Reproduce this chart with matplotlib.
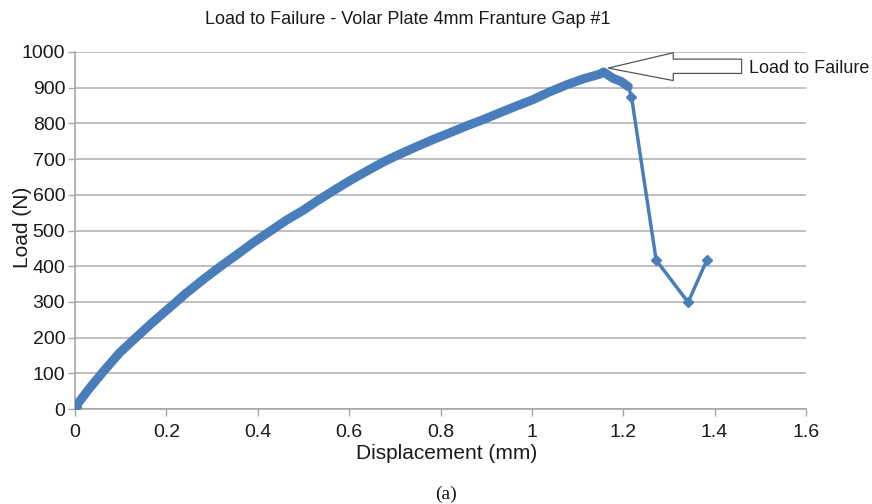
import matplotlib
matplotlib.use("Agg")
import matplotlib.pyplot as plt
from matplotlib.patches import Polygon

# Data
# dense loading part of the curve (up to failure)
disp_dense = [0.0, 0.033, 0.062, 0.098, 0.135, 0.171, 0.208, 0.244, 0.281, 0.317,
              0.354, 0.39, 0.427, 0.463, 0.5, 0.529, 0.565, 0.602, 0.638, 0.675,
              0.711, 0.748, 0.784, 0.821, 0.857, 0.894, 0.93, 0.967, 1.003, 1.04,
              1.076, 1.113, 1.149, 1.157, 1.178, 1.196, 1.211]
load_dense = [5, 60, 105, 158, 202, 244, 285, 325, 363, 398,
              432, 466, 498, 529, 557, 582, 611, 640, 666, 692,
              714, 735, 755, 774, 793, 811, 830, 849, 867, 889,
              908, 925, 938, 944, 926, 917, 903]

# sparse points after failure
disp_tail = [1.218, 1.272, 1.342, 1.383]
load_tail = [875, 417, 299, 417]

x_ticks = [0, 0.2, 0.4, 0.6, 0.8, 1.0, 1.2, 1.4, 1.6]
x_tick_labels = ["0", "0.2", "0.4", "0.6", "0.8", "1", "1.2", "1.4", "1.6"]
y_ticks = list(range(0, 1001, 100))

# Style
blue = "#4a7ebb"
grid_gray = "#b3b3b3"
text_col = "#1a1a1a"
plt.rcParams["font.family"] = ["Liberation Sans", "DejaVu Sans"]

fig = plt.figure(figsize=(8.72, 5.04), dpi=100)
ax = fig.add_axes([75 / 872, 95 / 504, 731 / 872, 357 / 504])

# Curve: thick band for the dense part, thin line with diamond markers afterwards
ax.plot(disp_dense + disp_tail, load_dense + load_tail, color=blue, lw=2.5, zorder=3)
ax.plot(disp_dense, load_dense, color=blue, lw=6.5, solid_capstyle="round",
        solid_joinstyle="round", zorder=3)
ax.plot(disp_tail, load_tail, "D", color=blue, ms=5.5, zorder=4)
ax.plot(disp_dense[0], load_dense[0], "D", color=blue, ms=6, zorder=4)

# Axes
ax.set_xlim(0, 1.6)
ax.set_ylim(0, 1000)
ax.set_xticks(x_ticks)
ax.set_xticklabels(x_tick_labels)
ax.set_yticks(y_ticks)
ax.yaxis.grid(True, color=grid_gray, lw=1.2)
ax.set_axisbelow(True)
for side in ["top", "right"]:
    ax.spines[side].set_visible(False)
for side in ["left", "bottom"]:
    ax.spines[side].set_color("#a6a6a6")
    ax.spines[side].set_linewidth(1.2)
ax.tick_params(axis="both", direction="out", length=5, width=1, color="#a6a6a6",
               labelsize=14, labelcolor=text_col)
ax.tick_params(axis="x", pad=6)
ax.tick_params(axis="y", pad=2)

ax.set_xlabel("Displacement (mm)", fontsize=15, color=text_col, va="top")
ax.xaxis.set_label_coords(0.508, -0.098)
ax.set_ylabel("Load (N)", fontsize=15, color=text_col, va="center")
ax.yaxis.set_label_coords(-0.072, 0.51)

# Block arrow pointing at the failure point
arrow_pts = [(1.167, 955), (1.3095, 998), (1.3095, 980), (1.459, 980),
             (1.459, 940), (1.3095, 940), (1.3095, 920)]
ax.add_patch(Polygon(arrow_pts, closed=True, facecolor="white", edgecolor="#555555",
                     lw=0.9, clip_on=False, zorder=5))
ax.text(1.476, 954, "Load to Failure", fontsize=13, color=text_col,
        ha="left", va="center", clip_on=False)

# Title and caption
fig.text(408 / 872, 1 - 20 / 504, "Load to Failure - Volar Plate 4mm Franture Gap #1",
         fontsize=13, color=text_col, ha="center", va="center")
fig.text(446 / 872, 1 - 494 / 504, "(a)", fontsize=14, color=text_col,
         family=["Liberation Serif", "DejaVu Serif"], ha="center", va="center")

fig.savefig("out.png", dpi=100)
